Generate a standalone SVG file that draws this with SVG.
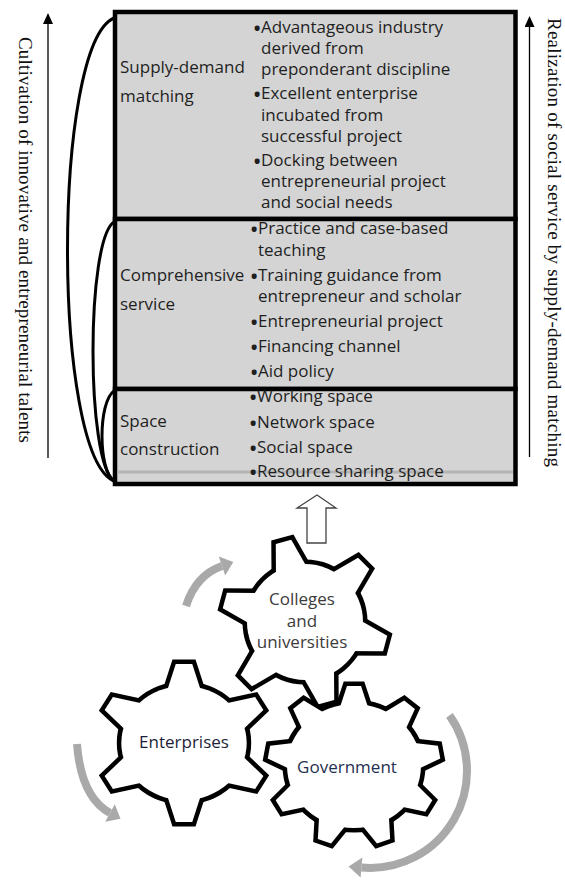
<svg xmlns="http://www.w3.org/2000/svg" width="565" height="882" viewBox="0 0 565 882">
<style>
.box{fill:#d4d4d4;stroke:#000;stroke-width:4.5}
.t{font-family:"Open Sans","Liberation Sans",sans-serif;font-size:17px;fill:#1f1f1f}
.b{font-family:"Open Sans","Liberation Sans",sans-serif;font-size:18px;font-weight:bold;fill:#1f1f1f;text-anchor:end}
.v{font-family:"Liberation Serif","Times New Roman",serif;font-size:19px;fill:#111}
.brace{fill:none;stroke:#000;stroke-width:3}
.blk{stroke:#000;stroke-width:1.3;fill:none}
.rot{fill:none;stroke:#a9a9a9;stroke-width:8}
.roth{fill:#a9a9a9}
.gl{font-family:"Open Sans","Liberation Sans",sans-serif;font-size:17px;text-anchor:middle}
.ns{vector-effect:non-scaling-stroke}
.gout{fill:#000;stroke:#000;stroke-width:9;stroke-linejoin:miter}
.gin{fill:#fff;stroke:none}
</style>
<defs>
<marker id="ah" markerUnits="userSpaceOnUse" markerWidth="11" markerHeight="10" viewBox="0 0 11 10" refX="0" refY="5" orient="auto">
<path d="M0,0 L11,5 L0,10 z" fill="#000"/>
</marker>
<polygon id="tC" class="ns" points="-18.7,-42 18.7,-42 8,-83 -8,-83"/>
<g id="gC"><circle class="ns" r="58"/><use href="#tC" transform="rotate(-15)"/><use href="#tC" transform="rotate(45)"/><use href="#tC" transform="rotate(105)"/><use href="#tC" transform="rotate(165)"/><use href="#tC" transform="rotate(225)"/><use href="#tC" transform="rotate(285)"/></g>
<polygon id="tE" class="ns" points="-18.7,-41 18.7,-41 7.5,-79 -7.5,-79"/>
<g id="gE"><circle class="ns" r="57"/><use href="#tE"/><use href="#tE" transform="rotate(60)"/><use href="#tE" transform="rotate(120)"/><use href="#tE" transform="rotate(180)"/><use href="#tE" transform="rotate(240)"/><use href="#tE" transform="rotate(300)"/></g>
<polygon id="tG" class="ns" points="-16.9,-46 16.9,-46 6.5,-80 -6.5,-80"/>
<g id="gG"><circle class="ns" r="62"/><use href="#tG"/><use href="#tG" transform="rotate(40)"/><use href="#tG" transform="rotate(80)"/><use href="#tG" transform="rotate(120)"/><use href="#tG" transform="rotate(160)"/><use href="#tG" transform="rotate(200)"/><use href="#tG" transform="rotate(240)"/><use href="#tG" transform="rotate(280)"/><use href="#tG" transform="rotate(320)"/></g>
</defs>

<g id="supply-demand">
<rect class="box" x="115" y="12" width="400.5" height="207"/>
<text class="t" x="120" y="73">Supply-demand</text>
<text class="t" x="120" y="102">matching</text>
<text class="b" x="260.5" y="35">•</text>
<text class="t" x="261" y="33">Advantageous industry</text>
<text class="t" x="261" y="54">derived from</text>
<text class="t" x="261" y="75">preponderant discipline</text>
<text class="b" x="260.5" y="101">•</text>
<text class="t" x="261" y="99">Excellent enterprise</text>
<text class="t" x="261" y="121">incubated from</text>
<text class="t" x="261" y="142">successful project</text>
<text class="b" x="260.5" y="168">•</text>
<text class="t" x="261" y="166">Docking between</text>
<text class="t" x="261" y="187">entrepreneurial project</text>
<text class="t" x="261" y="208">and social needs</text>
</g>

<g id="comprehensive-service">
<rect class="box" x="115" y="219" width="400.5" height="170"/>
<text class="t" x="120" y="281">Comprehensive</text>
<text class="t" x="120" y="310">service</text>
<text class="b" x="257.5" y="236">•</text>
<text class="t" x="258" y="234">Practice and case-based</text>
<text class="t" x="258" y="256">teaching</text>
<text class="b" x="257.5" y="283">•</text>
<text class="t" x="258" y="281">Training guidance from</text>
<text class="t" x="258" y="302">entrepreneur and scholar</text>
<text class="b" x="257.5" y="329">•</text>
<text class="t" x="258" y="327">Entrepreneurial project</text>
<text class="b" x="257.5" y="354">•</text>
<text class="t" x="258" y="352">Financing channel</text>
<text class="b" x="257.5" y="379">•</text>
<text class="t" x="258" y="377">Aid policy</text>
</g>

<g id="space-construction">
<rect class="box" x="115" y="389" width="400.5" height="95"/>
<line x1="117.5" y1="472" x2="513" y2="472" stroke="#b4b4b4" stroke-width="3"/>
<text class="t" x="120" y="427">Space</text>
<text class="t" x="120" y="455">construction</text>
<text class="b" x="256.5" y="404">•</text>
<text class="t" x="257" y="402">Working space</text>
<text class="b" x="256.5" y="430">•</text>
<text class="t" x="257" y="428">Network space</text>
<text class="b" x="256.5" y="455">•</text>
<text class="t" x="257" y="453">Social space</text>
<text class="b" x="256.5" y="479">•</text>
<text class="t" x="257" y="477">Resource sharing space</text>
</g>

<g id="label-left">
<text class="v" transform="translate(19,37) rotate(90)" x="0" y="0" textLength="406">Cultivation of innovative and entrepreneurial talents</text>
</g>
<g id="label-right">
<text class="v" transform="translate(548,18) rotate(90)" x="0" y="0" textLength="449">Realization of social service by supply-demand matching</text>
</g>

<g id="colleges">
<g transform="translate(305,622)"><use href="#gC" class="gout"/><use href="#gC" class="gin"/></g>
<text class="gl" fill="#3c3c3c" x="302" y="605">Colleges</text>
<text class="gl" fill="#3c3c3c" x="302" y="627">and</text>
<text class="gl" fill="#3c3c3c" x="302" y="648">universities</text>
</g>

<g id="enterprises">
<g transform="translate(184,743) scale(1.1,1)"><use href="#gE" class="gout"/><use href="#gE" class="gin"/></g>
<text class="gl" fill="#1e1e3c" x="184" y="748">Enterprises</text>
</g>

<g id="government">
<g transform="translate(354,766) scale(1.08,1)"><use href="#gG" class="gout"/><use href="#gG" class="gin"/></g>
<text class="gl" fill="#1f3050" x="347" y="773">Government</text>
</g>

<g id="connectors">
<path class="brace" d="M114,18 C52,45 52,455 114,481"/>
<path class="brace" d="M114,222 C86,240 86,462 114,481"/>
<path class="brace" d="M114,391 C98,402 98,470 114,481"/>
<line class="blk" x1="48" y1="458" x2="48" y2="24" marker-end="url(#ah)"/>
<line class="blk" x1="529.5" y1="457" x2="529.5" y2="27" marker-end="url(#ah)"/>
<polygon points="317,495 336,508 326,508 326,543 307,543 307,508 297,508" fill="#fff" stroke="#444" stroke-width="1.3"/>
<path class="rot" d="M186,606 Q196,575 222,566"/>
<polygon class="roth" points="233.3,562.1 225.2,575.4 218.8,556.6"/>
<path class="rot" d="M77,744 Q81,797 110,813"/>
<polygon class="roth" points="120.5,818.8 105.2,821.8 114.8,804.2"/>
<path class="rot" d="M449.5,715.4 A97,97 0 0 1 361.5,867.6"/>
<polygon class="roth" points="348.6,866.5 362.4,857.6 360.6,877.6"/>
</g>
</svg>
